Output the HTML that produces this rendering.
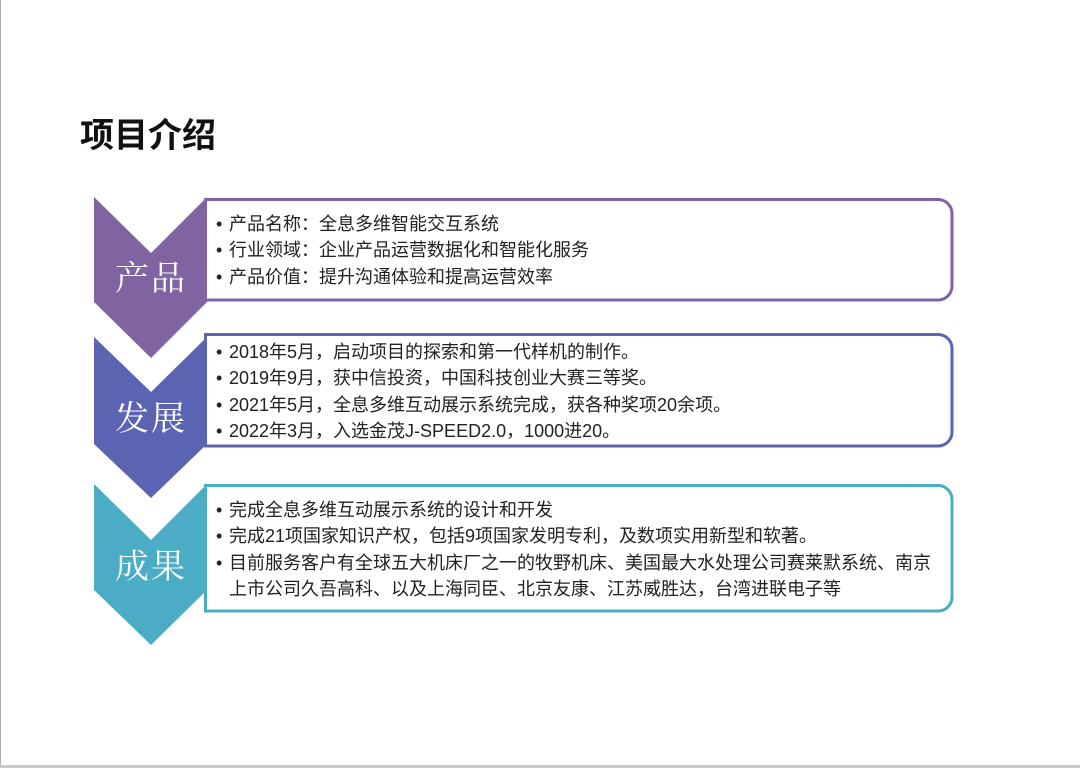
<!DOCTYPE html>
<html><head><meta charset="utf-8"><style>
html,body{margin:0;padding:0;background:#fff}
body{width:1080px;height:768px;position:relative;overflow:hidden;font-family:"Liberation Sans","Noto Sans CJK SC",sans-serif}
.t{position:absolute;font-size:18px;color:#222;white-space:nowrap;line-height:26.3px}
.t span{display:inline-block;width:13px}
.h{position:absolute;left:80px;top:108px;font-size:34px;font-weight:bold;color:#111;font-family:"Liberation Sans","Noto Sans CJK SC",sans-serif}
.c{position:absolute;width:112px;text-align:center;color:#fff;font-size:34px;font-family:"Liberation Serif","Noto Serif CJK SC",serif;letter-spacing:2px}
</style></head><body>
<svg width="1080" height="768" style="position:absolute;left:0;top:0">
<rect x="0" y="765" width="1080" height="3" fill="#c8c8c8"/>
<rect x="0" y="0" width="1" height="765" fill="#b0b0b0"/>
<polygon points="94,197 151,253 207,197 207,302 151,358 94,302" fill="#8064a2"/>
<polygon points="94,337 151,392 207,337 207,444 151,498 94,444" fill="#5b63b3"/>
<polygon points="94,484 151,540 207,484 207,590 151,645 94,590" fill="#4bacc6"/>
<path d="M205.5,199.5 H938 a14,14 0 0 1 14,14 V286 a14,14 0 0 1 -14,14 H205.5 Z" fill="#fff" stroke="#8064a2" stroke-width="3"/>
<path d="M205.5,334.5 H938 a14,14 0 0 1 14,14 V432 a14,14 0 0 1 -14,14 H205.5 Z" fill="#fff" stroke="#5b63b3" stroke-width="3"/>
<path d="M205.5,485.5 H938 a14,14 0 0 1 14,14 V597 a14,14 0 0 1 -14,14 H205.5 Z" fill="#fff" stroke="#4bacc6" stroke-width="3"/>
</svg>
<div class="h">项目介绍</div>
<div class="c" style="left:95px;top:251px">产品</div>
<div class="c" style="left:95px;top:391px">发展</div>
<div class="c" style="left:95px;top:539px">成果</div>
<div class="t" style="left:216px;top:211px">
<div><span>•</span>产品名称：全息多维智能交互系统</div>
<div><span>•</span>行业领域：企业产品运营数据化和智能化服务</div>
<div><span>•</span>产品价值：提升沟通体验和提高运营效率</div>
</div>
<div class="t" style="left:216px;top:339px">
<div><span>•</span>2018年5月，启动项目的探索和第一代样机的制作。</div>
<div><span>•</span>2019年9月，获中信投资，中国科技创业大赛三等奖。</div>
<div><span>•</span>2021年5月，全息多维互动展示系统完成，获各种奖项20余项。</div>
<div><span>•</span>2022年3月，入选金茂J-SPEED2.0，1000进20。</div>
</div>
<div class="t" style="left:216px;top:497px">
<div><span>•</span>完成全息多维互动展示系统的设计和开发</div>
<div><span>•</span>完成21项国家知识产权，包括9项国家发明专利，及数项实用新型和软著。</div>
<div><span>•</span>目前服务客户有全球五大机床厂之一的牧野机床、美国最大水处理公司赛莱默系统、南京</div>
<div><span></span>上市公司久吾高科、以及上海同臣、北京友康、江苏威胜达，台湾进联电子等</div>
</div>
</body></html>
